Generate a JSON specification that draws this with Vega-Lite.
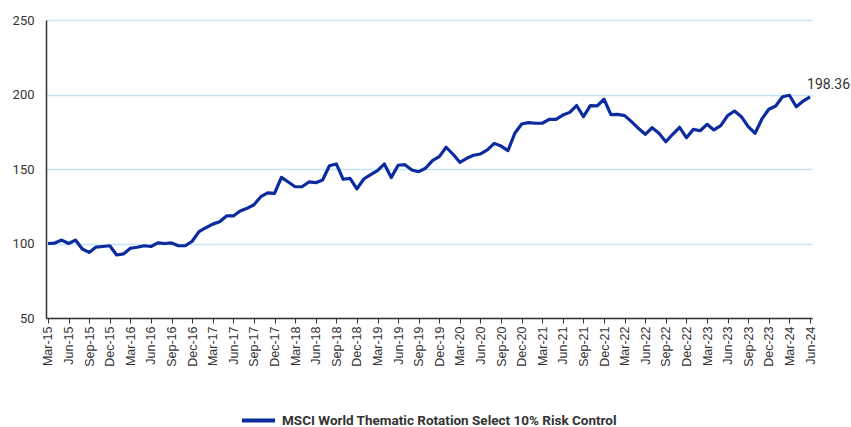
{
  "$schema": "https://vega.github.io/schema/vega-lite/v6.json",
  "width": 766,
  "height": 298,
  "autosize": {"type": "none"},
  "padding": {"left": 46, "top": 20, "right": 39, "bottom": 109},
  "background": "white",
  "config": {"view": {"stroke": null}},
  "data": {"values": [
    {"month": "Mar-15", "value": 100.0},
    {"month": "Apr-15", "value": 100.3},
    {"month": "May-15", "value": 102.3},
    {"month": "Jun-15", "value": 100.0},
    {"month": "Jul-15", "value": 102.3},
    {"month": "Aug-15", "value": 96.3},
    {"month": "Sep-15", "value": 94.0},
    {"month": "Oct-15", "value": 97.6},
    {"month": "Nov-15", "value": 98.0},
    {"month": "Dec-15", "value": 98.5},
    {"month": "Jan-16", "value": 92.3},
    {"month": "Feb-16", "value": 93.0},
    {"month": "Mar-16", "value": 96.8},
    {"month": "Apr-16", "value": 97.5},
    {"month": "May-16", "value": 98.5},
    {"month": "Jun-16", "value": 98.0},
    {"month": "Jul-16", "value": 100.4},
    {"month": "Aug-16", "value": 100.0},
    {"month": "Sep-16", "value": 100.4},
    {"month": "Oct-16", "value": 98.5},
    {"month": "Nov-16", "value": 98.5},
    {"month": "Dec-16", "value": 101.5},
    {"month": "Jan-17", "value": 108.0},
    {"month": "Feb-17", "value": 110.6},
    {"month": "Mar-17", "value": 113.0},
    {"month": "Apr-17", "value": 114.6},
    {"month": "May-17", "value": 118.5},
    {"month": "Jun-17", "value": 118.5},
    {"month": "Jul-17", "value": 121.8},
    {"month": "Aug-17", "value": 123.6},
    {"month": "Sep-17", "value": 126.0},
    {"month": "Oct-17", "value": 131.4},
    {"month": "Nov-17", "value": 134.0},
    {"month": "Dec-17", "value": 133.7},
    {"month": "Jan-18", "value": 144.4},
    {"month": "Feb-18", "value": 141.3},
    {"month": "Mar-18", "value": 138.1},
    {"month": "Apr-18", "value": 138.1},
    {"month": "May-18", "value": 141.3},
    {"month": "Jun-18", "value": 140.8},
    {"month": "Jul-18", "value": 142.6},
    {"month": "Aug-18", "value": 152.2},
    {"month": "Sep-18", "value": 153.4},
    {"month": "Oct-18", "value": 143.1},
    {"month": "Nov-18", "value": 143.7},
    {"month": "Dec-18", "value": 136.6},
    {"month": "Jan-19", "value": 143.3},
    {"month": "Feb-19", "value": 146.2},
    {"month": "Mar-19", "value": 148.9},
    {"month": "Apr-19", "value": 153.4},
    {"month": "May-19", "value": 144.2},
    {"month": "Jun-19", "value": 152.5},
    {"month": "Jul-19", "value": 152.9},
    {"month": "Aug-19", "value": 149.3},
    {"month": "Sep-19", "value": 148.2},
    {"month": "Oct-19", "value": 150.5},
    {"month": "Nov-19", "value": 155.6},
    {"month": "Dec-19", "value": 158.3},
    {"month": "Jan-20", "value": 164.6},
    {"month": "Feb-20", "value": 159.9},
    {"month": "Mar-20", "value": 154.5},
    {"month": "Apr-20", "value": 157.2},
    {"month": "May-20", "value": 159.2},
    {"month": "Jun-20", "value": 160.1},
    {"month": "Jul-20", "value": 162.8},
    {"month": "Aug-20", "value": 167.2},
    {"month": "Sep-20", "value": 165.4},
    {"month": "Oct-20", "value": 162.3},
    {"month": "Nov-20", "value": 174.0},
    {"month": "Dec-20", "value": 180.2},
    {"month": "Jan-21", "value": 181.1},
    {"month": "Feb-21", "value": 180.7},
    {"month": "Mar-21", "value": 180.7},
    {"month": "Apr-21", "value": 183.3},
    {"month": "May-21", "value": 183.3},
    {"month": "Jun-21", "value": 186.2},
    {"month": "Jul-21", "value": 188.0},
    {"month": "Aug-21", "value": 192.6},
    {"month": "Sep-21", "value": 185.1},
    {"month": "Oct-21", "value": 192.5},
    {"month": "Nov-21", "value": 192.3},
    {"month": "Dec-21", "value": 196.8},
    {"month": "Jan-22", "value": 186.5},
    {"month": "Feb-22", "value": 186.7},
    {"month": "Mar-22", "value": 185.8},
    {"month": "Apr-22", "value": 181.8},
    {"month": "May-22", "value": 177.3},
    {"month": "Jun-22", "value": 173.3},
    {"month": "Jul-22", "value": 177.7},
    {"month": "Aug-22", "value": 174.0},
    {"month": "Sep-22", "value": 168.3},
    {"month": "Oct-22", "value": 173.3},
    {"month": "Nov-22", "value": 178.0},
    {"month": "Dec-22", "value": 171.0},
    {"month": "Jan-23", "value": 176.6},
    {"month": "Feb-23", "value": 175.7},
    {"month": "Mar-23", "value": 180.0},
    {"month": "Apr-23", "value": 176.2},
    {"month": "May-23", "value": 179.1},
    {"month": "Jun-23", "value": 185.8},
    {"month": "Jul-23", "value": 188.9},
    {"month": "Aug-23", "value": 185.1},
    {"month": "Sep-23", "value": 178.4},
    {"month": "Oct-23", "value": 174.0},
    {"month": "Nov-23", "value": 183.6},
    {"month": "Dec-23", "value": 190.1},
    {"month": "Jan-24", "value": 192.3},
    {"month": "Feb-24", "value": 198.5},
    {"month": "Mar-24", "value": 199.5},
    {"month": "Apr-24", "value": 191.8},
    {"month": "May-24", "value": 195.6},
    {"month": "Jun-24", "value": 198.36, "label": "198.36"}
  ]},
  "encoding": {
    "x": {
      "field": "month", "type": "ordinal", "sort": null,
      "scale": {"type": "point", "padding": 0.29},
      "axis": {
        "title": null,
        "values": ["Mar-15","Jun-15","Sep-15","Dec-15","Mar-16","Jun-16","Sep-16","Dec-16","Mar-17","Jun-17","Sep-17","Dec-17","Mar-18","Jun-18","Sep-18","Dec-18","Mar-19","Jun-19","Sep-19","Dec-19","Mar-20","Jun-20","Sep-20","Dec-20","Mar-21","Jun-21","Sep-21","Dec-21","Mar-22","Jun-22","Sep-22","Dec-22","Mar-23","Jun-23","Sep-23","Dec-23","Mar-24","Jun-24"],
        "labelAngle": -90,
        "labelAlign": "right",
        "labelBaseline": "middle",
        "labelFont": "Liberation Sans",
        "labelFontSize": 12.5,
        "labelColor": "#333333",
        "labelPadding": 3,
        "tickSize": 5,
        "tickColor": "#333333",
        "domainColor": "#333333",
        "domainWidth": 1.5,
        "grid": false
      }
    },
    "y": {
      "field": "value", "type": "quantitative",
      "scale": {"domain": [50, 250], "nice": false, "zero": false},
      "axis": {
        "title": null,
        "values": [50, 100, 150, 200, 250],
        "labelFont": "Roboto",
        "labelFontSize": 13,
        "labelColor": "#333333",
        "labelPadding": 12,
        "ticks": false,
        "domainColor": "#333333",
        "domainWidth": 1.5,
        "grid": true,
        "gridColor": "#c6e4f8",
        "gridWidth": 1.5
      }
    }
  },
  "layer": [
    {
      "mark": {"type": "line", "strokeWidth": 3.2, "strokeJoin": "round"},
      "encoding": {
        "color": {
          "datum": "MSCI World Thematic Rotation Select 10% Risk Control",
          "type": "nominal",
          "scale": {"range": ["#0b2b9f"]},
          "legend": {
            "title": null,
            "orient": "none",
            "legendX": 194,
            "legendY": 382,
            "padding": 0,
            "symbolType": "stroke",
            "symbolSize": 1089,
            "symbolStrokeWidth": 4,
            "symbolOffset": 0,
            "labelOffset": 5,
            "labelFont": "Roboto",
            "labelFontWeight": "bold",
            "labelFontSize": 13.5,
            "labelColor": "#333333",
            "labelLimit": 500
          }
        }
      }
    },
    {
      "transform": [{"filter": "datum.label != null"}],
      "mark": {"type": "text", "align": "left", "baseline": "alphabetic", "dx": -3, "dy": -8, "font": "Roboto", "fontSize": 14, "color": "#333333"},
      "encoding": {"text": {"field": "label"}}
    }
  ]
}
